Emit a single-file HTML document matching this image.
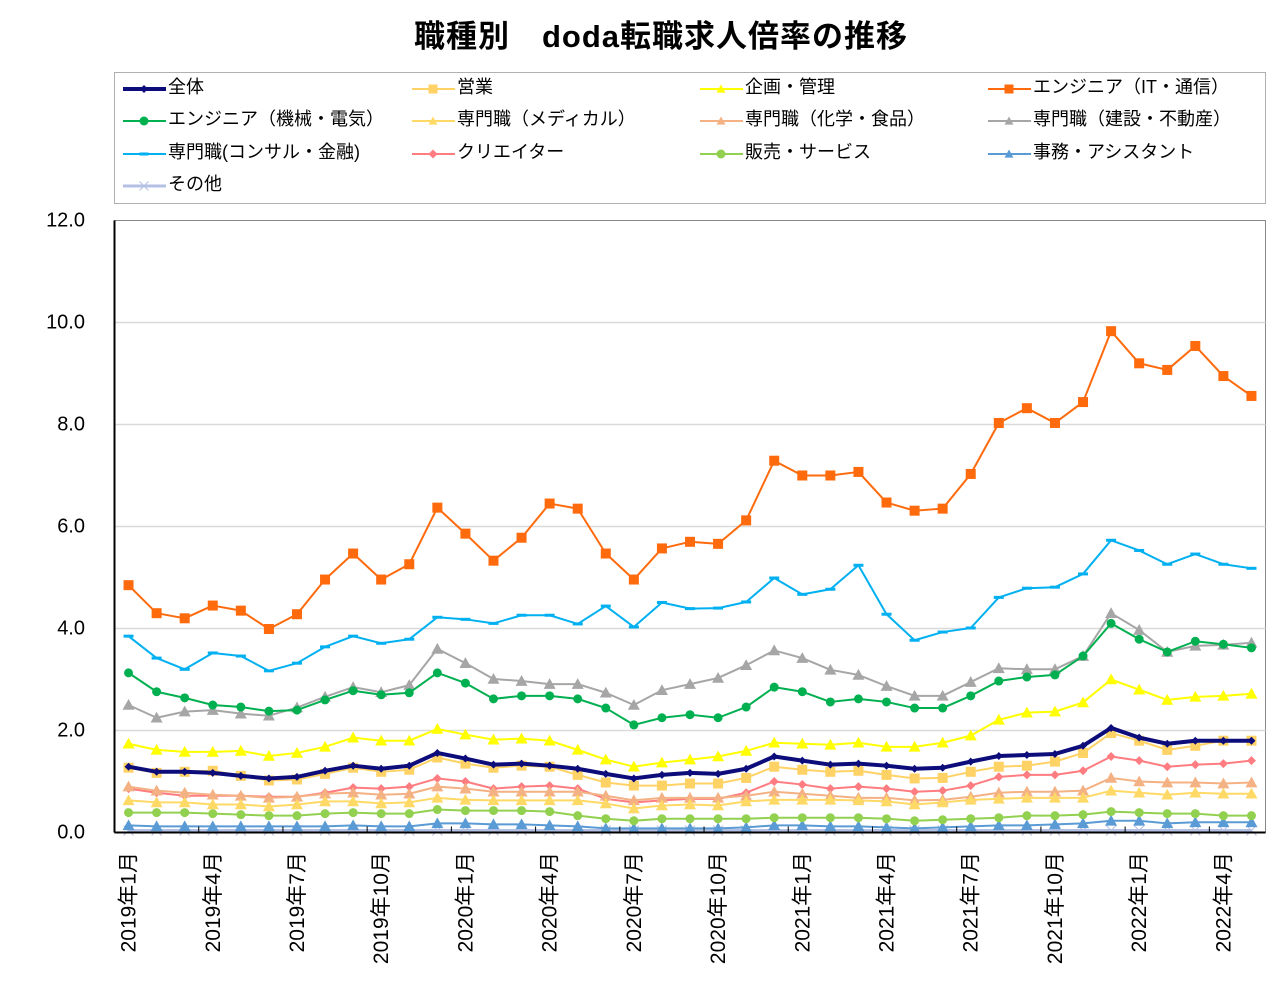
<!DOCTYPE html>
<html><head><meta charset="utf-8">
<style>
body{margin:0;background:#fff;}
svg text{font-family:"Liberation Sans","Noto Sans CJK JP",sans-serif;}
</style></head>
<body>
<svg id="chart" width="1284" height="994" viewBox="0 0 1284 994" xmlns="http://www.w3.org/2000/svg">
<text x="661" y="47" text-anchor="middle" font-size="31" font-weight="bold" letter-spacing="1" fill="#000">職種別　doda転職求人倍率の推移</text>
<rect x="114.5" y="72.5" width="1151" height="131" fill="#fff" stroke="#b0b0b0"/>
<g id="legend"></g>
<rect x="114.5" y="220.5" width="1151" height="612" fill="#fff" stroke="#888"/>
<g id="grid"></g>
<g id="series"></g>
<g id="axes"></g>
</svg>
<script>
const months = ["2019年1月","2019年2月","2019年3月","2019年4月","2019年5月","2019年6月","2019年7月","2019年8月","2019年9月","2019年10月","2019年11月","2019年12月","2020年1月","2020年2月","2020年3月","2020年4月","2020年5月","2020年6月","2020年7月","2020年8月","2020年9月","2020年10月","2020年11月","2020年12月","2021年1月","2021年2月","2021年3月","2021年4月","2021年5月","2021年6月","2021年7月","2021年8月","2021年9月","2021年10月","2021年11月","2021年12月","2022年1月","2022年2月","2022年3月","2022年4月","2022年5月"];
const yTicks = [0,2,4,6,8,10,12];
const seriesNames = ["全体","営業","企画・管理","エンジニア（IT・通信）","エンジニア（機械・電気）","専門職（メディカル）","専門職（化学・食品）","専門職（建設・不動産）","専門職(コンサル・金融)","クリエイター","販売・サービス","事務・アシスタント","その他"];
const vTotal = [1.29,1.19,1.19,1.17,1.11,1.06,1.09,1.21,1.31,1.25,1.31,1.56,1.45,1.33,1.35,1.31,1.25,1.15,1.06,1.13,1.17,1.15,1.25,1.49,1.41,1.33,1.35,1.31,1.25,1.27,1.39,1.5,1.52,1.54,1.7,2.05,1.86,1.74,1.8,1.8,1.8];
const vSales = [1.27,1.17,1.19,1.21,1.11,1.02,1.04,1.15,1.27,1.19,1.23,1.47,1.35,1.27,1.31,1.29,1.13,0.98,0.92,0.92,0.96,0.96,1.07,1.29,1.23,1.19,1.21,1.13,1.06,1.07,1.19,1.29,1.31,1.39,1.56,1.95,1.8,1.62,1.7,1.8,1.8];
const vPlan = [1.74,1.62,1.58,1.58,1.6,1.5,1.56,1.68,1.86,1.8,1.8,2.03,1.92,1.82,1.84,1.8,1.62,1.43,1.29,1.37,1.43,1.49,1.6,1.76,1.74,1.72,1.76,1.68,1.68,1.76,1.9,2.21,2.35,2.37,2.55,3.0,2.8,2.6,2.66,2.68,2.72];
const vIT = [4.85,4.3,4.2,4.45,4.35,3.99,4.28,4.96,5.47,4.96,5.26,6.37,5.86,5.33,5.78,6.45,6.35,5.47,4.96,5.57,5.7,5.66,6.12,7.29,7.0,7.0,7.07,6.47,6.31,6.35,7.03,8.03,8.32,8.03,8.44,9.83,9.2,9.07,9.54,8.95,8.56];
const vMech = [3.13,2.76,2.64,2.5,2.46,2.38,2.4,2.6,2.78,2.7,2.74,3.13,2.93,2.62,2.68,2.68,2.62,2.44,2.11,2.25,2.31,2.25,2.46,2.85,2.76,2.56,2.62,2.56,2.44,2.44,2.68,2.97,3.05,3.09,3.46,4.1,3.79,3.54,3.75,3.69,3.62];
const vMed = [0.63,0.59,0.59,0.55,0.55,0.51,0.55,0.61,0.61,0.57,0.59,0.68,0.64,0.63,0.63,0.63,0.63,0.57,0.47,0.53,0.55,0.53,0.61,0.64,0.64,0.64,0.63,0.61,0.55,0.59,0.64,0.66,0.68,0.68,0.68,0.82,0.78,0.74,0.78,0.76,0.76];
const vChem = [0.9,0.82,0.78,0.74,0.72,0.68,0.7,0.76,0.78,0.74,0.76,0.9,0.86,0.8,0.8,0.8,0.8,0.72,0.63,0.68,0.68,0.68,0.72,0.8,0.76,0.72,0.68,0.68,0.63,0.64,0.7,0.78,0.8,0.8,0.82,1.07,1.0,0.98,0.98,0.96,0.98];
const vCons = [2.5,2.25,2.37,2.4,2.33,2.29,2.45,2.66,2.85,2.75,2.89,3.6,3.32,3.01,2.97,2.91,2.91,2.74,2.5,2.79,2.91,3.03,3.28,3.57,3.42,3.19,3.09,2.87,2.68,2.68,2.95,3.22,3.2,3.2,3.46,4.3,3.97,3.54,3.66,3.68,3.72];
const vConsult = [3.85,3.42,3.2,3.52,3.46,3.17,3.32,3.64,3.85,3.71,3.79,4.22,4.18,4.1,4.26,4.26,4.09,4.44,4.03,4.51,4.39,4.4,4.52,4.99,4.67,4.77,5.24,4.28,3.77,3.93,4.01,4.61,4.79,4.81,5.07,5.73,5.53,5.26,5.46,5.26,5.18];
const vCreat = [0.86,0.78,0.72,0.72,0.72,0.7,0.7,0.78,0.88,0.86,0.9,1.06,1.0,0.86,0.9,0.92,0.86,0.66,0.59,0.63,0.66,0.66,0.78,1.0,0.94,0.86,0.9,0.86,0.8,0.82,0.92,1.09,1.13,1.13,1.21,1.49,1.41,1.29,1.33,1.35,1.41];
const vRetail = [0.39,0.39,0.39,0.37,0.35,0.33,0.33,0.37,0.39,0.37,0.37,0.45,0.43,0.43,0.43,0.41,0.33,0.27,0.23,0.27,0.27,0.27,0.27,0.29,0.29,0.29,0.29,0.27,0.23,0.25,0.27,0.29,0.33,0.33,0.35,0.41,0.39,0.37,0.37,0.33,0.33];
const vOffice = [0.14,0.12,0.12,0.12,0.12,0.12,0.12,0.12,0.14,0.12,0.12,0.18,0.18,0.16,0.16,0.14,0.12,0.08,0.08,0.08,0.08,0.08,0.1,0.14,0.14,0.12,0.12,0.1,0.08,0.1,0.12,0.14,0.14,0.16,0.18,0.23,0.23,0.18,0.2,0.2,0.2];
const vOther = [0.04,0.04,0.04,0.04,0.04,0.04,0.04,0.04,0.04,0.04,0.04,0.04,0.04,0.04,0.04,0.04,0.04,0.04,0.04,0.04,0.04,0.04,0.04,0.04,0.04,0.04,0.04,0.04,0.04,0.04,0.04,0.04,0.04,0.04,0.04,0.04,0.04,0.04,0.04,0.04,0.04];

const NS="http://www.w3.org/2000/svg";
const L=114.5,R=1265.5,T=220.5,B=832.5,YMAX=12;
const band=(R-L)/months.length;
function xS(i){return L+band*(i+0.5);}
function yS(v){return B-(v/YMAX)*(B-T);}
function mk(tag,attrs,parent){const e=document.createElementNS(NS,tag);for(const k in attrs)e.setAttribute(k,attrs[k]);parent.appendChild(e);return e;}

const styles=[
 {c:"#0c0c7a",w:4,m:"diamond",s:4},
 {c:"#ffd266",w:2,m:"square",s:5},
 {c:"#ffff00",w:2,m:"triangle",s:6},
 {c:"#ff6a0c",w:2,m:"square",s:5},
 {c:"#00b050",w:2,m:"circle",s:4.5},
 {c:"#ffd966",w:2,m:"triangle",s:6},
 {c:"#f4b183",w:2,m:"triangle",s:6},
 {c:"#a6a6a6",w:2,m:"triangle",s:6},
 {c:"#00b0f0",w:2,m:"dash",s:5},
 {c:"#ff7c80",w:2,m:"diamond",s:4.5},
 {c:"#92d050",w:2,m:"circle",s:4.5},
 {c:"#5b9bd5",w:2,m:"triangle",s:6},
 {c:"#b4c0e4",w:3,m:"x",s:5}
];
const allVals=[vTotal,vSales,vPlan,vIT,vMech,vMed,vChem,vCons,vConsult,vCreat,vRetail,vOffice,vOther];

function marker(g,m,x,y,s,c){
 let e;
 if(m==="square")e=mk("rect",{x:x-s,y:y-s,width:2*s,height:2*s,fill:c},g);
 else if(m==="circle")e=mk("circle",{cx:x,cy:y,r:s,fill:c},g);
 else if(m==="triangle")e=mk("polygon",{points:`${x},${y-s} ${x+s},${y+s*0.8} ${x-s},${y+s*0.8}`,fill:c},g);
 else if(m==="diamond")e=mk("polygon",{points:`${x},${y-s} ${x+s},${y} ${x},${y+s} ${x-s},${y}`,fill:c},g);
 else if(m==="dash")e=mk("rect",{x:x-s,y:y-1.5,width:2*s,height:3,fill:c},g);
 else e=mk("path",{d:`M${x-s},${y-s}L${x+s},${y+s}M${x-s},${y+s}L${x+s},${y-s}`,stroke:c,"stroke-width":1},g);
 return e;
}

const grid=document.getElementById("grid"),axes=document.getElementById("axes");
yTicks.forEach(t=>{
 if(t>0&&t<12){const gl=mk("line",{x1:L,x2:R,y1:yS(t),y2:yS(t),stroke:"#d9d9d9","stroke-width":1.5},grid);
 
 }
 const tx=mk("text",{x:85,y:yS(t)+6,"text-anchor":"end","font-size":20,fill:"#000"},axes);
 tx.textContent=t.toFixed(1);
 
 
});
const xa=mk("line",{x1:L,x2:R,y1:B,y2:B,stroke:"#000","stroke-width":2},axes);


const ya=mk("line",{x1:L,x2:L,y1:T,y2:B,stroke:"#000","stroke-width":2},axes);


months.forEach((m,i)=>{
 if(i%3===0){
  if(i>0){const tk=mk("line",{x1:L+band*i,x2:L+band*i,y1:B,y2:B-6,stroke:"#000","stroke-width":1},axes);
  
  }
  const x=xS(i)+7,y=852;
  const tx=mk("text",{x:x,y:y,"text-anchor":"end","font-size":21,fill:"#000",transform:`rotate(-90 ${x} ${y})`},axes);
  tx.textContent=m;
  
  
 }
});

const sg=document.getElementById("series");
for(let k=allVals.length-1;k>=0;k--){
 const st=styles[k],vals=allVals[k];
 const g=mk("g",{},sg);
 
 
 const pts=vals.map((v,i)=>xS(i)+","+yS(v)).join(" ");
 const pl=mk("polyline",{points:pts,fill:"none",stroke:st.c,"stroke-width":st.w,"stroke-linejoin":"round"},g);
 
 
 vals.forEach((v,i)=>{
  const mkr=marker(g,st.m,xS(i),yS(v),st.s,st.c);
  
  
 });
}

const lg=document.getElementById("legend");
const colX=[123,412,700,988],rowY=[86,118,151,183];
seriesNames.forEach((n,k)=>{
 const cx=colX[k%4],cy=rowY[Math.floor(k/4)],st=styles[k];
 const g=mk("g",{},lg);
 
 
 mk("line",{x1:cx,x2:cx+43,y1:cy+3,y2:cy+3,stroke:st.c,"stroke-width":st.w},g);
 marker(g,st.m,cx+21,cy+3,Math.min(st.s,4.5),st.c);
 const tx=mk("text",{x:cx+45,y:cy+7,"font-size":18,fill:"#000"},g);
 tx.textContent=n;
});
</script>
</body></html>
